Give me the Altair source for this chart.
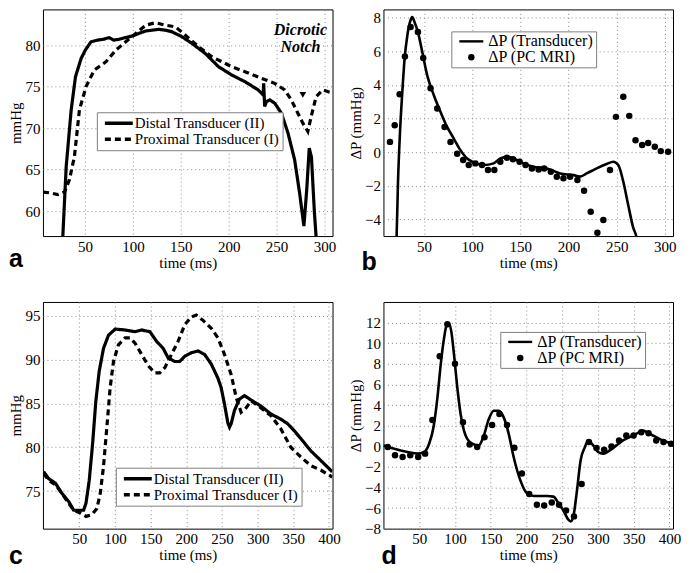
import altair as alt
import pandas as pd

# ---------------- data ----------------
# Panel a: pressure waveforms
a_distal_t = [25.5, 30.3, 35.5, 40.0, 45.9, 50.3, 56.2, 63.1, 69.0, 75.2,
              80.0, 85.6, 92.0, 99.4, 106.0, 113.3, 120.0, 127.1, 134.0, 140.9,
              151.3, 161.7, 175.5, 189.4, 203.2, 217.0, 230.9, 236.0, 236.6, 237.6,
              239.5, 243.0, 248.2, 255.1, 262.0, 268.9, 274.1, 278.6, 281.5, 284.2,
              286.5, 289.6, 292.5]
a_distal_v = [54.0, 65.4, 72.2, 76.2, 78.4, 79.4, 80.4, 80.6, 80.7, 80.9,
              80.6, 80.7, 80.9, 81.1, 81.4, 81.7, 81.8, 81.9, 81.8, 81.6,
              81.0, 80.2, 79.0, 77.4, 76.4, 75.6, 74.6, 74.0, 75.4, 72.6,
              73.2, 73.4, 73.0, 71.8, 69.4, 66.2, 62.2, 58.2, 62.5, 67.6,
              66.5, 59.8, 55.0]
a_prox_t = [6.1, 14.0, 21.6, 28.6, 33.7, 38.9, 44.1, 51.0, 59.7, 71.8,
            82.2, 92.5, 102.9, 113.3, 123.7, 134.0, 144.4, 154.8, 168.6, 182.4,
            203.2, 217.0, 234.3, 248.1, 258.5, 265.4, 272.3, 277.5, 282.7, 286.2,
            291.4, 298.3, 308.7]
a_prox_v = [62.3, 62.2, 62.0, 62.3, 63.8, 66.6, 72.2, 75.0, 77.0, 78.0,
            79.4, 80.4, 81.4, 82.4, 82.7, 82.4, 82.2, 81.2, 79.8, 78.6,
            77.4, 76.8, 76.0, 75.4, 74.6, 73.4, 71.8, 70.6, 69.6, 71.4,
            73.8, 74.6, 74.2]
notch_words = ["Dicrotic", "Notch"]
notch_t = [275.0, 275.0]
notch_v = [81.8, 79.8]
arrow_t = [277.5]
arrow_v = [74.0]

# Panel b: pressure difference
b_trans_t = [20.5, 21.7, 23.1, 25.2, 27.6, 30.0, 32.8, 35.5, 37.9, 40.3,
             43.8, 48.3, 53.4, 60.3, 67.2, 74.1, 81.0, 87.9, 94.8, 101.7,
             112.1, 122.4, 129.3, 136.2, 143.1, 153.4, 163.8, 177.6, 191.4, 205.2,
             212.0, 218.9, 229.3, 239.6, 246.5, 251.7, 256.9, 262.0, 267.2, 270.7,
             272.5]
b_trans_v = [-6.5, -4.95, -1.8, 1.2, 3.6, 5.6, 6.95, 7.74, 8.04, 7.74,
             7.15, 5.96, 4.57, 3.39, 2.4, 1.5, 0.81, 0.12, -0.38, -0.61,
             -0.77, -0.67, -0.38, -0.28, -0.38, -0.67, -0.87, -0.97, -1.27, -1.37,
             -1.46, -1.27, -0.97, -0.71, -0.57, -0.77, -1.76, -3.15, -4.5, -5.1,
             -5.8]
b_mri_t = [14.8, 19.7, 24.8, 30.3, 36.2, 43.8, 49.3, 56.9, 63.8, 71.4,
           77.6, 84.5, 90.7, 96.5, 103.4, 110.3, 116.5, 123.1, 129.3, 136.2,
           142.4, 149.3, 155.5, 162.1, 169.0, 174.8, 181.7, 187.9, 194.8, 201.7,
           209.3, 216.2, 223.1, 230.0, 236.2, 243.1, 249.3, 256.9, 263.1, 269.6,
           276.5, 282.7, 289.6, 295.8, 303.4]
b_mri_v = [0.61, 1.6, 3.45, 5.7, 7.45, 7.15, 5.6, 3.8, 2.6, 1.5,
           0.6, -0.1, -0.47, -0.77, -0.67, -0.77, -1.07, -1.07, -0.57, -0.34,
           -0.43, -0.57, -0.77, -0.97, -1.03, -0.97, -1.17, -1.46, -1.56, -1.46,
           -1.66, -2.3, -3.55, -4.8, -4.04, -1.07, 2.1, 3.3, 2.16, 0.71,
           0.42, 0.55, 0.32, 0.06, 0.02]

# Panel c: pressure waveforms
c_distal_t = [0.0, 7.2, 16.5, 25.8, 35.1, 42.1, 49.1, 56.0, 59.3, 63.9,
              68.6, 73.2, 77.9, 83.9, 90.9, 100.2, 114.1, 128.1, 137.4, 149.0,
              158.3, 167.6, 174.6, 183.9, 190.8, 197.8, 207.1, 216.4, 225.7, 235.0,
              244.3, 248.9, 253.6, 258.2, 260.6, 262.9, 267.5, 274.5, 281.5, 290.8,
              304.7, 318.7, 332.6, 341.9, 351.2, 360.5, 374.4, 388.4, 404.6]
c_distal_v = [77.2, 76.4, 75.9, 74.7, 73.8, 72.8, 72.8, 72.8, 73.6, 76.2,
              80.4, 85.3, 88.7, 91.3, 92.8, 93.5, 93.4, 93.2, 93.4, 93.2,
              92.1, 91.3, 90.2, 89.8, 89.8, 90.4, 90.8, 91.0, 90.6, 89.5,
              87.9, 86.8, 84.9, 82.8, 82.3, 82.7, 84.2, 85.5, 85.9, 85.4,
              84.7, 83.8, 83.2, 82.7, 81.9, 81.0, 79.6, 78.5, 77.2]
c_prox_t = [0.0, 7.2, 16.5, 25.8, 35.1, 42.1, 51.4, 59.3, 67.7, 74.6,
            79.3, 83.9, 88.6, 93.2, 97.9, 104.8, 114.1, 121.1, 128.1, 137.4,
            146.7, 156.0, 162.9, 169.9, 179.2, 188.5, 197.8, 207.1, 214.1, 223.4,
            235.0, 244.3, 253.6, 262.9, 269.9, 276.8, 283.8, 290.8, 304.7, 318.7,
            332.6, 346.5, 360.5, 374.4, 388.4, 404.6]
c_prox_v = [77.0, 76.2, 75.7, 74.7, 73.6, 72.8, 72.5, 72.1, 72.3, 73.0,
            74.7, 77.8, 82.3, 86.8, 89.8, 91.7, 92.5, 92.5, 91.9, 90.6,
            89.3, 88.5, 88.5, 89.1, 90.6, 92.1, 94.0, 94.9, 95.1, 94.5,
            93.6, 92.5, 90.6, 88.3, 85.7, 84.0, 84.5, 85.3, 84.5, 83.6,
            82.1, 80.0, 78.9, 77.9, 77.4, 76.6]

# Panel d: pressure difference
d_trans_t = [0.0, 15.2, 33.8, 47.7, 57.0, 63.9, 70.0, 75.5, 80.1, 84.8,
             88.5, 91.7, 95.0, 98.7, 103.3, 108.0, 114.9, 124.2, 133.4, 140.4,
             147.4, 154.3, 161.3, 168.2, 175.2, 182.1, 191.4, 200.7, 209.9, 228.5,
             237.8, 244.7, 251.7, 258.6, 261.9, 265.6, 270.2, 275.8, 281.8, 286.4,
             293.4, 300.3, 307.3, 316.5, 325.8, 335.1, 344.4, 353.7, 362.9, 372.2,
             381.5, 390.7, 404.6]
d_trans_v = [0.08, -0.24, -0.56, -0.72, -0.56, 0.24, 1.84, 4.72, 7.93, 10.5,
             11.78, 11.94, 11.1, 8.9, 5.7, 3.1, 1.04, 0.24, 0.08, 1.04,
             2.64, 3.44, 3.44, 2.8, 1.2, -1.04, -3.29, -4.57, -4.83, -4.83,
             -4.89, -5.53, -6.24, -7.13, -7.29, -6.81, -4.57, -1.36, -0.08, 0.56,
             0.08, -0.56, -0.72, -0.4, 0.08, 0.56, 0.88, 1.2, 1.52, 1.2,
             0.88, 0.56, 0.24]
d_mri_t = [6.0, 16.2, 26.8, 37.5, 48.6, 58.3, 68.5, 78.7, 89.4, 100.1,
           111.2, 120.5, 131.1, 141.3, 152.0, 162.2, 172.9, 183.1, 193.7, 203.9,
           214.6, 224.8, 235.4, 245.6, 255.4, 266.5, 277.2, 287.4, 298.0, 308.7,
           318.9, 329.5, 339.7, 349.9, 360.6, 370.8, 381.5, 391.7, 402.3]
d_mri_v = [-0.08, -0.88, -1.04, -0.88, -1.04, -0.72, 2.55, 8.73, 11.84, 8.0,
           2.32, 0.17, -0.08, 0.88, 2.06, 3.12, 2.06, -0.15, -2.65, -4.63,
           -5.69, -5.76, -5.47, -5.69, -6.24, -6.81, -3.67, 0.40, -0.18, -0.34,
           -0.02, 0.56, 1.04, 1.04, 1.36, 1.26, 0.56, 0.40, 0.24]

DISTAL = "Distal Transducer (II)"
PROX = "Proximal Transducer (I)"
TRANS = "\u0394P (Transducer)"
MRI = "\u0394P (PC MRI)"

x_ticks_300 = [50, 100, 150, 200, 250, 300]
x_ticks_400 = [50, 100, 150, 200, 250, 300, 350, 400]

# ---------------- helpers ----------------
SERIF = "Liberation Serif"
W, H = 290, 227

AXIS_STYLE = dict(labelFont=SERIF, titleFont=SERIF, labelFontSize=15, titleFontSize=15,
                  titleFontWeight="normal", labelColor="black", titleColor="black",
                  domain=False, ticks=False, grid=True, gridColor="#8c8c8c",
                  gridDash=[1, 3], gridWidth=1, labelPadding=3, labelFlush=False,
                  labelOverlap=False, format="d")


def sc(dom):
    return alt.Scale(domain=dom, nice=False, zero=False)


def x_enc(dom, ticks):
    return alt.X("t:Q", scale=sc(dom),
                 axis=alt.Axis(values=ticks, title="time (ms)", titlePadding=1, **AXIS_STYLE))


def y_enc(dom, ticks, title):
    return alt.Y("v:Q", scale=sc(dom),
                 axis=alt.Axis(values=ticks, title=title, titlePadding=1, **AXIS_STYLE))


def letter_title(letter, dx, dy):
    return alt.TitleParams(text=letter, orient="bottom", anchor="start", frame="group",
                           offset=0, dx=dx, dy=dy, font="Liberation Sans", fontSize=25,
                           fontWeight="bold", color="black")


def legend_common(x, y, pad, so, lo, fs, rp):
    return dict(title=None, orient="none", legendX=x, legendY=y, labelFont=SERIF,
                labelFontSize=fs, labelColor="black", fillColor="white",
                strokeColor="#808080", padding=pad, rowPadding=rp, labelOffset=lo,
                symbolOffset=so, symbolOpacity=1)


def pressure_panel(dt, dv, pt, pv, xdom, xt, ydom, yt, lx, ly, letter, dx, dy, extra=()):
    df = pd.DataFrame({"t": dt + pt, "v": dv + pv,
                       "series": [DISTAL] * len(dt) + [PROX] * len(pt)})
    x = x_enc(xdom, xt)
    y = y_enc(ydom, yt, "mmHg")
    line = alt.Chart(df).mark_line(color="black", strokeWidth=3.2, clip=True).encode(
        x=x, y=y,
        strokeDash=alt.StrokeDash(
            "series:N",
            scale=alt.Scale(domain=[DISTAL, PROX], range=[[1, 0], [6, 4]]),
            legend=alt.Legend(symbolType="M-2.33,0H2.33", symbolSize=144,
                              symbolStrokeWidth=3.6, symbolStrokeColor="black",
                              **legend_common(lx, ly, 3, 11, 8, 15, -2)),
        ),
    )
    layers = [line] + [mk(x, y) for mk in extra]
    return alt.layer(*layers).properties(width=W, height=H, title=letter_title(letter, dx, dy))


LINE_SYMBOL = "M-2,-0.2H2V0.2H-2Z"


def dp_panel(lt, lv, mt, mv, xdom, xt, ydom, yt, lx, ly, letter, dx, dy):
    ldf = pd.DataFrame({"t": lt, "v": lv})
    mdf = pd.DataFrame({"t": mt, "v": mv, "series": [MRI] * len(mt)})
    x = x_enc(xdom, xt)
    y = y_enc(ydom, yt, "\u0394P (mmHg)")
    line = alt.Chart(ldf).mark_line(color="black", strokeWidth=2.6, interpolate="monotone",
                                    clip=True).encode(x=x, y=y)
    leg = alt.Legend(**legend_common(lx, ly, 2, 10, 9, 16, -3))
    pts = alt.Chart(mdf).mark_point(filled=True, color="black", opacity=1, clip=True).encode(
        x=x, y=y,
        shape=alt.Shape("series:N", scale=alt.Scale(domain=[TRANS, MRI], range=[LINE_SYMBOL, "circle"]),
                        legend=leg),
        size=alt.Size("series:N", scale=alt.Scale(domain=[TRANS, MRI], range=[144, 42]),
                      legend=leg),
    )
    return alt.layer(line, pts).properties(width=W, height=H, title=letter_title(letter, dx, dy))


notch_df = pd.DataFrame({"t": notch_t, "v": notch_v, "word": notch_words})
arrow_df = pd.DataFrame({"t": arrow_t, "v": arrow_v})


def notch_text(x, y):
    return alt.Chart(notch_df).mark_text(font=SERIF, fontSize=16, fontStyle="italic",
                                         fontWeight="bold", color="black", align="center",
                                         baseline="middle").encode(x=x, y=y, text="word:N")


def notch_arrow(x, y):
    return alt.Chart(arrow_df).mark_point(shape="triangle-down", filled=True, color="black",
                                          opacity=1, size=45).encode(x=x, y=y)


pa = pressure_panel(a_distal_t, a_distal_v, a_prox_t, a_prox_v, [6, 308.5], x_ticks_300,
                    [57, 84.3], [60, 65, 70, 75, 80], 54, 103, "a", -34, -23,
                    extra=(notch_text, notch_arrow))
pb = dp_panel(b_trans_t, b_trans_v, b_mri_t, b_mri_v, [8, 308.5], x_ticks_300,
              [-5, 8.5], [-4, -2, 0, 2, 4, 6, 8], 68, 22, "b", -22, -20)
pc = pressure_panel(c_distal_t, c_distal_v, c_prox_t, c_prox_v, [-1, 405], x_ticks_400,
                    [70.7, 96.6], [75, 80, 85, 90, 95], 73, 166, "c", -34, -19)
pd_ = dp_panel(d_trans_t, d_trans_v, d_mri_t, d_mri_v, [0, 405], x_ticks_400,
               [-8, 14], [-8, -6, -4, -2, 0, 2, 4, 6, 8, 10, 12], 117, 30, "d", -2, -19)

chart = alt.concat(pa, pb, pc, pd_, columns=2, spacing={"row": 66, "column": 51},
                   bounds="flush", padding=0).resolve_scale(
    strokeDash="independent", shape="independent", size="independent"
).configure_view(stroke="black", strokeWidth=1)

chart.save("out.html", embed_options={"renderer": "svg", "actions": False})
